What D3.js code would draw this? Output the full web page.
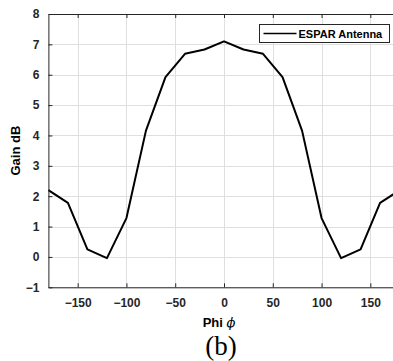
<!DOCTYPE html>
<html>
<head>
<meta charset="utf-8">
<script src="https://cdn.jsdelivr.net/npm/d3@7"></script>
<style>
  body { margin: 0; background: #fff; }
  svg { display: block; font-family: "Liberation Sans", Arial, sans-serif; }
</style>
</head>
<body>
<div id="chart"></div>
<script>
// --- Data ---
const phi = [-180, -160, -140, -120, -100, -80, -60, -40, -20, 0, 20, 40, 60, 80, 100, 120, 140, 160, 180];
const gain = [2.2, 1.78, 0.25, -0.04, 1.28, 4.16, 5.92, 6.69, 6.83, 7.1, 6.83, 6.69, 5.92, 4.16, 1.28, -0.04, 0.25, 1.78, 2.2];
const xTicks = [-150, -100, -50, 0, 50, 100, 150];
const yTicks = [-1, 0, 1, 2, 3, 4, 5, 6, 7, 8];
const seriesName = "ESPAR Antenna";

// --- Layout ---
const W = 393, H = 361;
const margin = { top: 14, left: 48.4, bottom: 287.3 };
const axisColor = "#262626";

const svg = d3.select("#chart").append("svg")
    .attr("width", W)
    .attr("height", H);

const x = d3.scaleLinear().domain([-180, 180]).range([margin.left, 399.6]);
const y = d3.scaleLinear().domain([-1, 8]).range([margin.bottom, margin.top]);

// grid
const grid = svg.append("g").attr("stroke", "#dfdfdf").attr("stroke-width", 1);
grid.selectAll(".gx").data(xTicks).enter().append("line")
    .attr("x1", d => Math.round(x(d)) + 0.5).attr("x2", d => Math.round(x(d)) + 0.5)
    .attr("y1", y(8)).attr("y2", y(-1));
grid.selectAll(".gy").data(yTicks).enter().append("line")
    .attr("x1", x(-180)).attr("x2", x(180))
    .attr("y1", d => Math.round(y(d)) + 0.5).attr("y2", d => Math.round(y(d)) + 0.5);

// line
const line = d3.line().x((d, i) => x(phi[i])).y(d => y(d));
svg.append("path")
    .datum(gain)
    .attr("fill", "none")
    .attr("stroke", "#000")
    .attr("stroke-width", 2)
    .attr("stroke-linejoin", "round")
    .attr("d", line);

// axes
const tickFont = g => g.selectAll("text")
    .attr("font-size", 12).attr("font-weight", "bold").attr("fill", axisColor);

const xAxis = svg.append("g")
    .attr("transform", `translate(0,${y(-1)})`)
    .call(d3.axisBottom(x).tickValues(xTicks).tickSize(-4).tickPadding(11).tickSizeOuter(0))
    .call(tickFont);
xAxis.select(".domain").attr("stroke", axisColor);
xAxis.selectAll("line").attr("stroke", axisColor);

const xTop = svg.append("g")
    .attr("transform", `translate(0,${y(8)})`)
    .call(d3.axisTop(x).tickValues(xTicks).tickSize(-4).tickFormat("").tickSizeOuter(0));
xTop.select(".domain").attr("stroke", axisColor);
xTop.selectAll("line").attr("stroke", axisColor);

const yAxis = svg.append("g")
    .attr("transform", `translate(${x(-180)},0)`)
    .call(d3.axisLeft(y).tickValues(yTicks).tickSize(-4).tickPadding(9).tickSizeOuter(0))
    .call(tickFont);
yAxis.select(".domain").attr("stroke", axisColor);
yAxis.selectAll("line").attr("stroke", axisColor);

// axis labels
svg.append("text")
    .attr("transform", `translate(20,${(y(8) + y(-1)) / 2}) rotate(-90)`)
    .attr("text-anchor", "middle")
    .attr("font-size", 13).attr("font-weight", "bold").attr("fill", "#000")
    .text("Gain dB");

const xl = svg.append("text")
    .attr("x", 219).attr("y", 327)
    .attr("text-anchor", "middle")
    .attr("font-size", 13).attr("font-weight", "bold").attr("fill", "#000");
xl.append("tspan").text("Phi ");
xl.append("tspan").attr("font-style", "italic").attr("font-weight", "normal")
    .attr("font-family", "DejaVu Serif, serif").text("\u03D5");

svg.append("text")
    .attr("x", 221).attr("y", 355)
    .attr("text-anchor", "middle")
    .attr("font-family", "Liberation Serif, Times New Roman, serif")
    .attr("font-size", 27).attr("fill", "#000")
    .text("(b)");

// legend
const lg = svg.append("g").attr("transform", "translate(259.5,24.5)");
lg.append("rect").attr("width", 130).attr("height", 18)
    .attr("fill", "#fff").attr("stroke", axisColor).attr("stroke-width", 1);
lg.append("line").attr("x1", 4).attr("x2", 37).attr("y1", 9).attr("y2", 9)
    .attr("stroke", "#000").attr("stroke-width", 1.5);
lg.append("text").attr("x", 39).attr("y", 13)
    .attr("font-size", 11).attr("font-weight", "bold").attr("fill", "#000")
    .text(seriesName);
</script>
</body>
</html>
